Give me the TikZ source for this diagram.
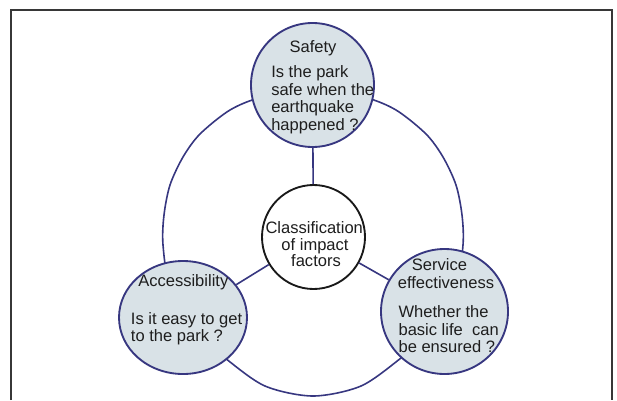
\documentclass[tikz,border=0pt]{standalone}
\usepackage{fontspec}
\setmainfont{Liberation Sans}
\usetikzlibrary{shapes.geometric}
\definecolor{cfill}{RGB}{217,226,231}
\definecolor{cline}{RGB}{55,55,128}
\definecolor{ctext}{RGB}{30,30,30}
\definecolor{cframe}{RGB}{55,55,55}
\begin{document}
\begin{tikzpicture}[x=0.75pt,y=-0.75pt,
  bub/.style={ellipse, draw=cline, line width=1.4pt, fill=cfill, inner sep=0pt},
  hub/.style={ellipse, draw=black!90, line width=1.4pt, fill=white, inner sep=0pt},
  ring/.style={draw=cline, line width=1.2pt},
  link/.style={draw=cline, line width=1.2pt},
  txt/.style={font=\fontsize{12.4}{14}\selectfont, text=ctext, inner sep=0pt}]
\useasboundingbox (0,0) rectangle (617,400);
% frame
\draw[cframe, line width=1.5pt] (11,400) -- (11,10) -- (612,10) -- (612,400);
% ring
\draw[ring] plot[smooth cycle] coordinates {
  (313,88) (262,97) (230,110) (200,134) (183,157) (170,185) (164,215) (163,245)
  (170,290) (190,328) (225,358) (265,386) (313,396) (361,386) (401,358) (436,328)
  (456,290) (463,245) (462,215) (456,185) (443,157) (426,134) (396,110) (364,97)};
% circles
\node[bub, minimum width=92.25pt, minimum height=93pt] (safe) at (312.5,85) {};
\node[bub, minimum width=96pt, minimum height=84.75pt] (acc) at (183,317.5) {};
\node[bub, minimum width=95.25pt, minimum height=93.75pt] (srv) at (444.5,311.5) {};
\node[hub, minimum width=77.25pt, minimum height=78pt] (cen) at (313.5,237) {};
% connectors
\draw[link] (safe) -- (cen);
\draw[link] (cen) -- (acc);
\draw[link] (cen) -- (srv);
% texts: safety
\node[txt, anchor=base] (s0) at (313,52) {Safety};
\node[txt, anchor=base west] (s1) at (271,77.5) {Is the park};
\node[txt, anchor=base west] (s2) at (271,95) {safe when the};
\node[txt, anchor=base west] (s3) at (271,112.5) {earthquake};
\node[txt, anchor=base west] (s4) at (271,130) {happened ?};
% accessibility
\node[txt, anchor=base] (a0) at (183.3,286) {Accessibility};
\node[txt, anchor=base west] (a1) at (130.7,324) {Is it easy to get};
\node[txt, anchor=base west] (a2) at (130.7,341) {to the park ?};
% service
\node[txt, anchor=base] (v0) at (439.5,270.7) {Service};
\node[txt, anchor=base] (v1) at (446,288) {effectiveness};
\node[txt, anchor=base west] (v2) at (398.3,317.3) {Whether the};
\node[txt, anchor=base west] (v3) at (398.3,335.7) {basic life~~can};
\node[txt, anchor=base west] (v4) at (398.3,352.7) {be ensured ?};
% center
\node[txt, anchor=base] (c0) at (314.2,233.3) {Classification};
\node[txt, anchor=base] (c1) at (315,250.7) {of impact};
\node[txt, anchor=base] (c2) at (316,266.5) {factors};
\end{tikzpicture}
\end{document}
